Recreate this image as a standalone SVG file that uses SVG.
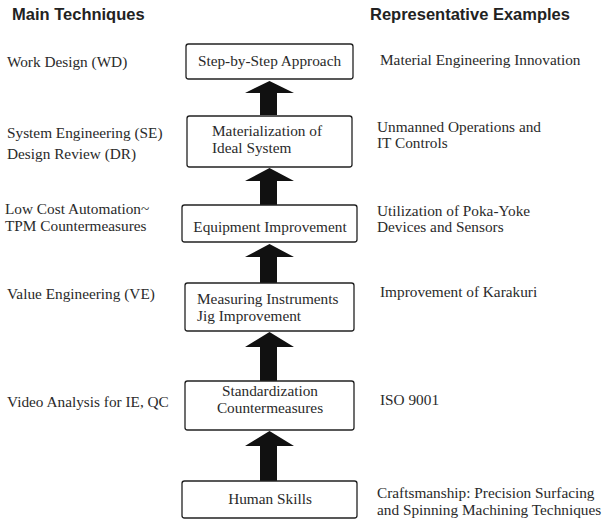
<svg xmlns="http://www.w3.org/2000/svg" width="607" height="522" viewBox="0 0 607 522">
<style>
.h{font-family:"Liberation Sans",Arial,sans-serif;font-weight:bold;font-size:16.5px;fill:#222}
.t{font-family:"Liberation Serif","Times New Roman",serif;font-size:15.3px;fill:#2a2a2a}
.c{text-anchor:middle}
.box{fill:#fff;stroke:#222;stroke-width:1.3}
.arr{fill:#111}
</style>
<rect width="607" height="522" fill="#fff"/>
<text class="h" x="12" y="19.5">Main Techniques</text>
<text class="h" x="370" y="19.5">Representative Examples</text>
<g id="connectors">
<polygon class="arr" points="260,115 260,93 245,93 269.5,81 294,93 277,93 277,115"/>
<polygon class="arr" points="260,205 260,181 245,181 269.5,168 294,181 277,181 277,205"/>
<polygon class="arr" points="260,283 260,257 245,257 269.5,244 294,257 277,257 277,283"/>
<polygon class="arr" points="260,381 260,347 245,347 269.5,332 294,347 277,347 277,381"/>
<polygon class="arr" points="260,481 260,446 245,446 269.5,431 294,446 277,446 277,481"/>
</g>
<g id="n1">
<rect class="box" x="186" y="44" width="167" height="35" rx="2.5"/>
<text class="t c" x="269.5" y="66">Step-by-Step Approach</text>
</g>
<g id="n2">
<rect class="box" x="187" y="116" width="165" height="51" rx="2.5"/>
<text class="t" x="212" y="136">Materialization of</text>
<text class="t" x="212" y="153">Ideal System</text>
</g>
<g id="n3">
<rect class="box" x="182" y="205" width="175" height="37" rx="2.5"/>
<text class="t c" x="270" y="232">Equipment Improvement</text>
</g>
<g id="n4">
<rect class="box" x="185" y="283" width="169" height="48" rx="2.5"/>
<text class="t" x="197" y="304">Measuring Instruments</text>
<text class="t" x="197" y="320.5">Jig Improvement</text>
</g>
<g id="n5">
<rect class="box" x="185" y="381" width="169" height="49" rx="2.5"/>
<text class="t c" x="270" y="396">Standardization</text>
<text class="t c" x="270" y="412.5">Countermeasures</text>
</g>
<g id="n6">
<rect class="box" x="182" y="481" width="175" height="37" rx="2.5"/>
<text class="t c" x="270" y="504">Human Skills</text>
</g>
<g id="left">
<text class="t" x="7" y="66.5">Work Design (WD)</text>
<text class="t" x="7" y="138">System Engineering (SE)</text>
<text class="t" x="7" y="159">Design Review (DR)</text>
<text class="t" x="5" y="214">Low Cost Automation~</text>
<text class="t" x="5" y="230.5">TPM Countermeasures</text>
<text class="t" x="7" y="299">Value Engineering (VE)</text>
<text class="t" x="7" y="407">Video Analysis for IE, QC</text>
</g>
<g id="right">
<text class="t" x="380" y="65">Material Engineering Innovation</text>
<text class="t" x="377" y="131.5">Unmanned Operations and</text>
<text class="t" x="377" y="148">IT Controls</text>
<text class="t" x="377" y="215.5">Utilization of Poka-Yoke</text>
<text class="t" x="377" y="232">Devices and Sensors</text>
<text class="t" x="380" y="297">Improvement of Karakuri</text>
<text class="t" x="380" y="405">ISO 9001</text>
<text class="t" x="377" y="498">Craftsmanship: Precision Surfacing</text>
<text class="t" x="377" y="514.5">and Spinning Machining Techniques</text>
</g>
</svg>
